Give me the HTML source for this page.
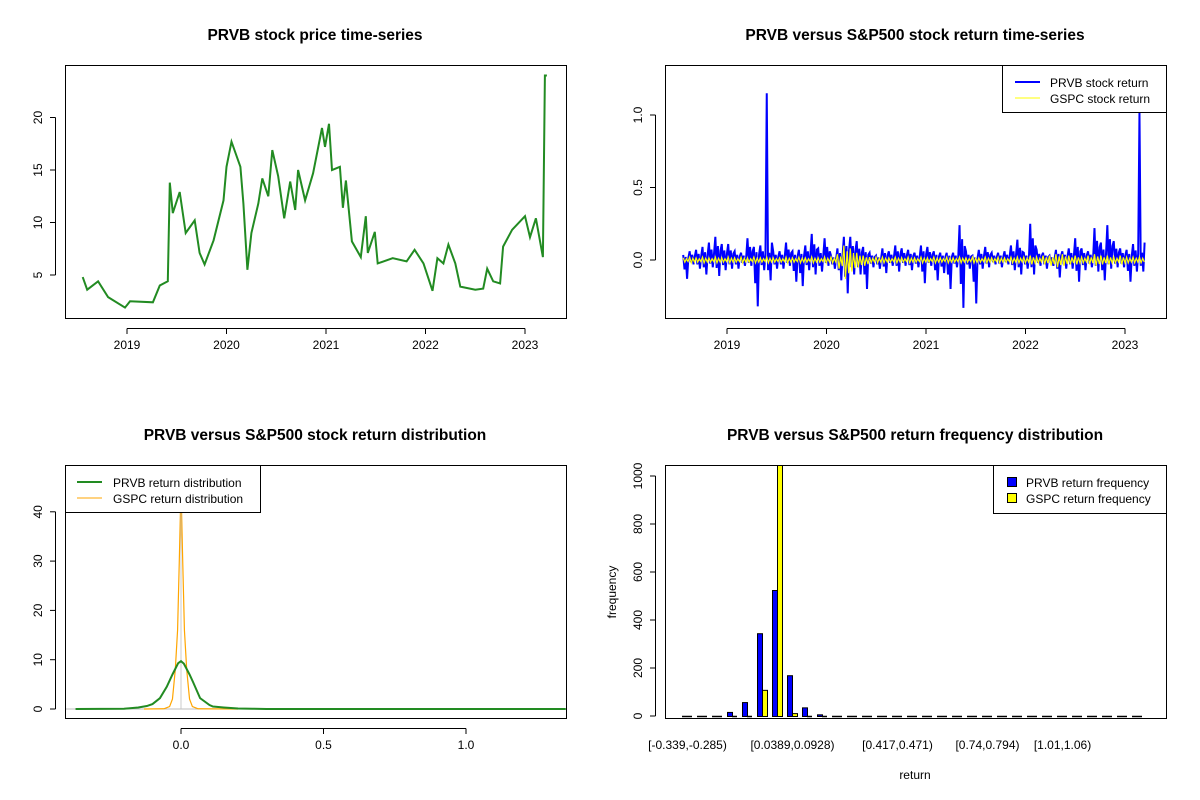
<!DOCTYPE html>
<html><head><meta charset="utf-8"><style>
body{margin:0;background:#fff}
svg{display:block;font-family:"Liberation Sans",Arial,sans-serif}
</style></head><body>
<svg id="chart" width="1200" height="800" viewBox="0 0 1200 800"></svg>
<script>
// ---------- DATA ----------
const priceTimes = [2018.555,2018.6,2018.71,2018.81,2018.98,2019.03,2019.26,2019.33,2019.41,2019.43,2019.46,2019.53,2019.59,2019.68,2019.73,2019.78,2019.87,2019.97,2020.0,2020.05,2020.14,2020.17,2020.21,2020.25,2020.32,2020.36,2020.42,2020.46,2020.52,2020.58,2020.64,2020.69,2020.72,2020.79,2020.87,2020.96,2020.99,2021.03,2021.06,2021.14,2021.17,2021.2,2021.26,2021.35,2021.4,2021.42,2021.49,2021.52,2021.67,2021.81,2021.89,2021.98,2022.07,2022.12,2022.18,2022.23,2022.3,2022.35,2022.5,2022.58,2022.62,2022.68,2022.75,2022.78,2022.87,2023.0,2023.05,2023.11,2023.18,2023.2,2023.22];
const priceValues = [4.8,3.6,4.4,2.9,1.9,2.5,2.4,4.0,4.4,13.8,10.9,12.9,9.0,10.2,7.1,6.0,8.3,12.1,15.3,17.7,15.3,11.8,5.5,9.0,11.8,14.2,12.5,16.9,14.4,10.4,13.9,11.2,15.0,12.1,14.7,19.0,17.2,19.4,15.0,15.3,11.4,14.0,8.2,6.7,10.6,7.1,9.1,6.1,6.6,6.3,7.4,6.1,3.5,6.6,6.1,7.9,6.1,3.9,3.6,3.7,5.6,4.4,4.2,7.7,9.3,10.6,8.6,10.4,6.7,24.0,24.0];
const yearTicks = [2019,2020,2021,2022,2023];
const priceTicks = [5,10,15,20];

const returnHi = [0.035,0.06,0.07,0.09,0.12,0.16,0.11,0.11,0.06,0.05,0.15,0.09,0.1,1.15,0.06,0.06,0.12,0.06,0.07,0.1,0.18,0.08,0.15,0.03,0.08,0.16,0.16,0.13,0.09,0.05,0.03,0.08,0.06,0.1,0.08,0.07,0.05,0.1,0.09,0.06,0.05,0.05,0.05,0.24,0.06,0.03,0.07,0.09,0.05,0.05,0.06,0.1,0.14,0.05,0.25,0.07,0.05,0.03,0.07,0.06,0.08,0.15,0.08,0.06,0.22,0.12,0.24,0.13,0.08,0.07,0.11,1.02];
const returnLo = [-0.13,-0.03,-0.06,-0.1,-0.05,-0.11,-0.07,-0.06,-0.06,-0.04,-0.04,-0.32,-0.07,-0.14,-0.06,-0.06,-0.04,-0.15,-0.18,-0.07,-0.1,-0.08,-0.04,-0.06,-0.14,-0.23,-0.1,-0.1,-0.2,-0.05,-0.06,-0.09,-0.04,-0.08,-0.04,-0.07,-0.05,-0.16,-0.04,-0.14,-0.09,-0.2,-0.05,-0.33,-0.06,-0.3,-0.06,-0.05,-0.03,-0.05,-0.03,-0.07,-0.1,-0.06,-0.1,-0.04,-0.06,-0.04,-0.12,-0.06,-0.06,-0.15,-0.07,-0.05,-0.08,-0.14,-0.06,-0.05,-0.05,-0.15,-0.08,-0.08];
const gspcHi = [0.015,0.02,0.015,0.02,0.015,0.02,0.015,0.02,0.015,0.02,0.015,0.02,0.015,0.02,0.015,0.015,0.02,0.015,0.02,0.015,0.02,0.015,0.02,0.02,0.04,0.1,0.08,0.05,0.03,0.02,0.02,0.02,0.015,0.02,0.015,0.02,0.015,0.02,0.015,0.02,0.015,0.02,0.015,0.02,0.015,0.02,0.015,0.02,0.015,0.02,0.015,0.02,0.02,0.02,0.03,0.02,0.03,0.03,0.04,0.04,0.03,0.03,0.02,0.03,0.04,0.03,0.03,0.02,0.03,0.02,0.02,0.02];
const gspcLo = [-0.015,-0.02,-0.015,-0.02,-0.015,-0.02,-0.015,-0.02,-0.015,-0.02,-0.015,-0.02,-0.015,-0.02,-0.015,-0.015,-0.02,-0.015,-0.02,-0.015,-0.02,-0.015,-0.02,-0.02,-0.06,-0.13,-0.08,-0.05,-0.04,-0.02,-0.02,-0.02,-0.015,-0.02,-0.015,-0.02,-0.015,-0.02,-0.015,-0.02,-0.015,-0.02,-0.015,-0.02,-0.015,-0.02,-0.015,-0.02,-0.015,-0.02,-0.015,-0.02,-0.02,-0.02,-0.03,-0.02,-0.03,-0.04,-0.05,-0.04,-0.03,-0.03,-0.02,-0.03,-0.04,-0.03,-0.03,-0.02,-0.03,-0.02,-0.02,-0.02];
const returnTicks = [0.0,0.5,1.0];

const densX = [-0.37,-0.2,-0.15,-0.12,-0.1,-0.074,-0.05,-0.03,-0.01,0.0,0.01,0.03,0.042,0.067,0.1,0.112,0.15,0.2,0.25,0.3,1.35];
const densPRVB = [0,0.05,0.3,0.6,1.0,2.2,4.5,7,9.3,9.7,9.2,7,5.5,2.2,0.8,0.5,0.3,0.1,0.05,0,0];
const densXG = [-0.13,-0.06,-0.04,-0.03,-0.02,-0.012,-0.006,0,0.006,0.012,0.02,0.03,0.04,0.06,0.2];
const densGSPC = [0,0.05,0.5,2,8,16,30,45,30,16,8,2,0.5,0.05,0];
const densXTicks = [0.0,0.5,1.0];
const densYTicks = [0,10,20,30,40];

const binLabels = ["[-0.339,-0.285)","","","","","","","[0.0389,0.0928)","","","","","","","[0.417,0.471)","","","","","","[0.74,0.794)","","","","","[1.01,1.06)","","","","",""];
const freqPRVB = [3,0,2,17,58,345,525,170,36,7,3,0,0,0,0,0,0,0,0,0,0,0,0,0,0,0,0,3,0,0,0];
const freqGSPC = [0,0,0,3,3,109,1100,12,0,0,0,0,0,0,0,0,0,0,0,0,0,0,0,0,0,0,0,0,0,0,0];
const freqTicks = [0,200,400,600,800,1000];

// ---------- helpers ----------
const svg = document.getElementById('chart');
const NS = 'http://www.w3.org/2000/svg';
function mk(tag, attrs, parent){
  const e = document.createElementNS(NS, tag);
  for (const k in attrs) e.setAttribute(k, attrs[k]);
  (parent||svg).appendChild(e);
  return e;
}
function txt(s, x, y, size, opts, parent){
  const t = mk('text', Object.assign({x:x, y:y, 'font-size':size, 'text-anchor':'middle', fill:'#000'}, opts||{}), parent);
  t.textContent = s;
  return t;
}
function grp(name){
  const g = mk('g', {});
  
  
  return g;
}

// ---------- Panel 1 ----------
(function(){
  const g = grp('price-panel');
  const X = t => 127 + (t - 2019) * 99.5;
  const Y = v => 327.5 - 10.5 * v;
  const title = txt('PRVB stock price time-series', 315, 40, 15.5, {'font-weight':'bold'}, g);
  
  
  const box = mk('rect', {x:65.5, y:65.5, width:501, height:253, fill:'none', stroke:'#000'}, g);
  
  
  const pts = priceTimes.map((t,i)=>X(t).toFixed(1)+','+Y(priceValues[i]).toFixed(1)).join(' ');
  const line = mk('polyline', {points:pts, fill:'none', stroke:'#228B22', 'stroke-width':2, 'stroke-linejoin':'miter'}, g);
  
  
  mk('line', {x1:X(yearTicks[0]), x2:X(yearTicks[yearTicks.length-1]), y1:328.5, y2:328.5, stroke:'#000'}, g);
  yearTicks.forEach(t=>{
    mk('line', {x1:X(t), x2:X(t), y1:328.5, y2:334, stroke:'#000'}, g);
    const l = txt(String(t), X(t), 349, 12, {}, g);
    
    
  });
  mk('line', {x1:55.5, x2:55.5, y1:Y(priceTicks[0]), y2:Y(priceTicks[priceTicks.length-1]), stroke:'#000'}, g);
  priceTicks.forEach(v=>{
    mk('line', {x1:50, x2:55.5, y1:Y(v), y2:Y(v), stroke:'#000'}, g);
    const l = txt(String(v), 42, Y(v), 12, {transform:`rotate(-90 42 ${Y(v)})`}, g);
    
    
  });
})();

// ---------- Panel 2 ----------
(function(){
  const g = grp('return-panel');
  const X = t => 727 + (t - 2019) * 99.5;
  const Y = v => 260 - 145 * v;
  const title = txt('PRVB versus S&P500 stock return time-series', 915, 40, 15.5, {'font-weight':'bold'}, g);
  
  
  const n = returnHi.length, t0 = 2018.56, t1 = 2023.21, dt = (t1 - t0) / n;
  let p = [];
  for (let i=0;i<n;i++){
    const b = t0 + i*dt;
    p.push(X(b)+','+Y(returnHi[i]));
    p.push(X(b+dt*0.2)+','+Y(returnLo[i]*0.5));
    p.push(X(b+dt*0.4)+','+Y(returnHi[i]>0.3?0.05:returnHi[i]*0.6));
    p.push(X(b+dt*0.6)+','+Y(returnLo[i]));
    p.push(X(b+dt*0.8)+','+Y(Math.min(returnHi[i],0.3)*0.4));
  }
  const bl = mk('polyline', {points:p.join(' '), fill:'none', stroke:'#0000FF', 'stroke-width':2}, g);
  
  
  p = [];
  for (let i=0;i<n;i++){ p.push(X(t0+i*dt)+','+Y(gspcHi[i])); p.push(X(t0+(i+0.25)*dt)+','+Y(gspcLo[i])); p.push(X(t0+(i+0.5)*dt)+','+Y(gspcHi[i]*0.6)); p.push(X(t0+(i+0.75)*dt)+','+Y(gspcLo[i]*0.7)); }
  const yl = mk('polyline', {points:p.join(' '), fill:'none', stroke:'#FFFF00', 'stroke-width':1.2}, g);
  
  
  const box = mk('rect', {x:665.5, y:65.5, width:501, height:253, fill:'none', stroke:'#000'}, g);
  
  
  mk('line', {x1:X(yearTicks[0]), x2:X(yearTicks[yearTicks.length-1]), y1:328.5, y2:328.5, stroke:'#000'}, g);
  yearTicks.forEach(t=>{
    mk('line', {x1:X(t), x2:X(t), y1:328.5, y2:334, stroke:'#000'}, g);
    const l = txt(String(t), X(t), 349, 12, {}, g);
    
    
  });
  mk('line', {x1:655.5, x2:655.5, y1:Y(returnTicks[0]), y2:Y(returnTicks[returnTicks.length-1]), stroke:'#000'}, g);
  returnTicks.forEach(v=>{
    mk('line', {x1:650, x2:655.5, y1:Y(v), y2:Y(v), stroke:'#000'}, g);
    const l = txt(v.toFixed(1), 642, Y(v), 12, {transform:`rotate(-90 642 ${Y(v)})`}, g);
    
    
  });
  const lg = mk('g', {}, g);
  
  
  mk('rect', {x:1002.5, y:65.5, width:164, height:47, fill:'#fff', stroke:'#000'}, lg);
  mk('line', {x1:1015, x2:1040, y1:82, y2:82, stroke:'#0000FF', 'stroke-width':2}, lg);
  mk('line', {x1:1015, x2:1040, y1:98, y2:98, stroke:'#FFFF00', 'stroke-width':1}, lg);
  txt('PRVB stock return', 1050, 87, 12, {'text-anchor':'start'}, lg);
  txt('GSPC stock return', 1050, 103, 12, {'text-anchor':'start'}, lg);
})();

// ---------- Panel 3 ----------
(function(){
  const g = grp('distribution-panel');
  const X = v => 181 + v * 285;
  const Y = v => 709 - 4.93 * v;
  const title = txt('PRVB versus S&P500 stock return distribution', 315, 440, 15.5, {'font-weight':'bold'}, g);
  
  
  const cp = mk('clipPath', {id:'c3'}, g);
  mk('rect', {x:65, y:465, width:501, height:253}, cp);
  const inner = mk('g', {'clip-path':'url(#c3)'}, g);
  mk('line', {x1:65, x2:566, y1:Y(0), y2:Y(0), stroke:'#bebebe', 'stroke-width':1}, inner);
  const og = mk('polyline', {points:densXG.map((x,i)=>X(x)+','+Y(densGSPC[i])).join(' '), fill:'none', stroke:'#FFA500', 'stroke-width':1.2}, inner);
  
  
  mk('line', {x1:X(0), x2:X(0), y1:Y(0), y2:Y(40), stroke:'#bebebe', 'stroke-width':0.8}, inner);
  const gl = mk('polyline', {points:densX.map((x,i)=>X(x)+','+Y(densPRVB[i])).join(' '), fill:'none', stroke:'#228B22', 'stroke-width':2}, inner);
  
  
  const box = mk('rect', {x:65.5, y:465.5, width:501, height:253, fill:'none', stroke:'#000'}, g);
  
  
  mk('line', {x1:X(densXTicks[0]), x2:X(densXTicks[densXTicks.length-1]), y1:728.5, y2:728.5, stroke:'#000'}, g);
  densXTicks.forEach(v=>{
    mk('line', {x1:X(v), x2:X(v), y1:728.5, y2:734, stroke:'#000'}, g);
    const l = txt(v.toFixed(1), X(v), 749, 12, {}, g);
    
    
  });
  mk('line', {x1:55.5, x2:55.5, y1:Y(densYTicks[0]), y2:Y(densYTicks[densYTicks.length-1]), stroke:'#000'}, g);
  densYTicks.forEach(v=>{
    mk('line', {x1:50, x2:55.5, y1:Y(v), y2:Y(v), stroke:'#000'}, g);
    const l = txt(String(v), 42, Y(v), 12, {transform:`rotate(-90 42 ${Y(v)})`}, g);
    
    
  });
  const lg = mk('g', {}, g);
  
  
  mk('rect', {x:65.5, y:465.5, width:195, height:47, fill:'#fff', stroke:'#000'}, lg);
  mk('line', {x1:77, x2:102, y1:482, y2:482, stroke:'#228B22', 'stroke-width':2}, lg);
  mk('line', {x1:77, x2:102, y1:498, y2:498, stroke:'#FFA500', 'stroke-width':1}, lg);
  txt('PRVB return distribution', 113, 487, 12, {'text-anchor':'start'}, lg);
  txt('GSPC return distribution', 113, 503, 12, {'text-anchor':'start'}, lg);
})();

// ---------- Panel 4 ----------
(function(){
  const g = grp('frequency-panel');
  const Y = v => 716 - 0.24 * v;
  const BX = i => 682 + 15 * i;
  const title = txt('PRVB versus S&P500 return frequency distribution', 915, 440, 15.5, {'font-weight':'bold'}, g);
  
  
  const cp = mk('clipPath', {id:'c4'}, g);
  mk('rect', {x:665, y:465, width:501, height:253}, cp);
  const inner = mk('g', {'clip-path':'url(#c4)'}, g);
  function bar(x, v, fill){
    const h = Y(0) - Y(v);
    if (h < 1) {
      return mk('line', {x1:x, x2:x+5, y1:Y(0)+0.5, y2:Y(0)+0.5, stroke:'#000', 'stroke-width':1.5}, inner);
    }
    return mk('rect', {x:x+0.5, y:Y(v)+0.5, width:5, height:h, fill:fill, stroke:'#000'}, inner);
  }
  freqPRVB.forEach((v,i)=>{
    const r = bar(BX(i), v, '#0000FF');
    
    
  });
  freqGSPC.forEach((v,i)=>{
    const r = bar(BX(i)+5, v, '#FFFF00');
    
    
  });
  const box = mk('rect', {x:665.5, y:465.5, width:501, height:253, fill:'none', stroke:'#000'}, g);
  
  
  binLabels.forEach((s,i)=>{
    if (!s) return;
    const l = txt(s, BX(i)+5.5, 749, 12, {}, g);
    
    
  });
  mk('line', {x1:655.5, x2:655.5, y1:Y(freqTicks[0]), y2:Y(freqTicks[freqTicks.length-1]), stroke:'#000'}, g);
  freqTicks.forEach(v=>{
    mk('line', {x1:650, x2:655.5, y1:Y(v), y2:Y(v), stroke:'#000'}, g);
    const l = txt(String(v), 642, Y(v), 12, {transform:`rotate(-90 642 ${Y(v)})`}, g);
    
    
  });
  const yt = txt('frequency', 616, 592, 12, {transform:'rotate(-90 616 592)'}, g);
  
  
  const xt = txt('return', 915, 779, 12, {}, g);
  
  
  const lg = mk('g', {}, g);
  
  
  mk('rect', {x:993.5, y:465.5, width:173, height:48, fill:'#fff', stroke:'#000'}, lg);
  mk('rect', {x:1007.5, y:477.5, width:9, height:9, fill:'#0000FF', stroke:'#000'}, lg);
  mk('rect', {x:1007.5, y:493.5, width:9, height:9, fill:'#FFFF00', stroke:'#000'}, lg);
  txt('PRVB return frequency', 1026, 487, 12, {'text-anchor':'start'}, lg);
  txt('GSPC return frequency', 1026, 503, 12, {'text-anchor':'start'}, lg);
})();
</script>
</body></html>
